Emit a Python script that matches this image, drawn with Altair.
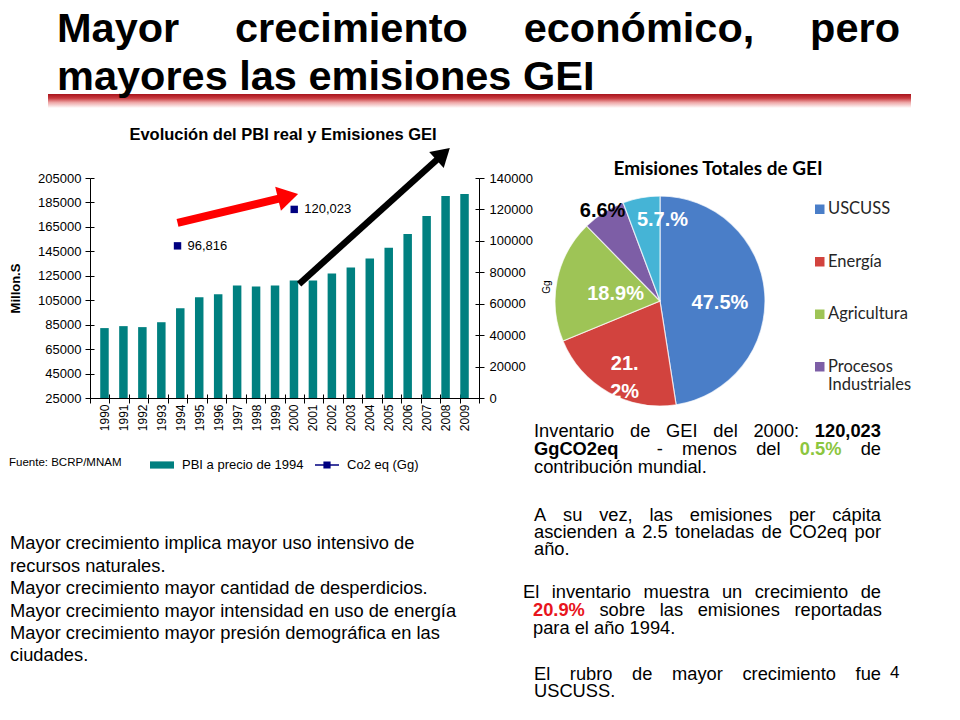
import math
import altair as alt
import pandas as pd

OFF = 8
W, H = 944, 700
SANS = "Liberation Sans"
CAL = "Lato"

# ---------------- data ----------------
years = list(range(1990, 2010))
pbi = [82200, 83800, 83000, 87000, 98400, 107400, 109800, 117100, 116300, 117100,
       121200, 121200, 126900, 131800, 139100, 148000, 159200, 173900, 190300, 191900]
co2_years = [1994, 2000]
co2_vals = [96816, 120023]
serie_labels = ["PBI a precio de 1994", "Co2 eq (Gg)"]

left_ticks = list(range(25000, 205001, 20000))
right_ticks = list(range(0, 140001, 20000))

pie_cats = ["USCUSS", "Energía", "Agricultura", "Procesos Industriales", "Desechos"]
pie_pcts = [47.5, 21.2, 18.9, 6.6, 5.7]
pie_labels = ["47.5%", "21.\n2%", "18.9%", "6.6%", "5.7.%"]

# arrows, in data units (year, right-axis value)
arrow_from_year = [1994.0, 2000.25]
arrow_from_val = [111400, 72500]
arrow_to_year = [2000.2, 2008.0]
arrow_to_val = [129800, 159100]

# ---------------- layout ----------------
X0, X1 = 90 - OFF, 479 - OFF
YT, YB = 178 - OFF, 398 - OFF
XDOM = [1989.5, 2009.5]
CX, CY, R = 660 - OFF, 301 - OFF, 105
BOUNDS = [y - 0.5 for y in years] + [2009.5]


def xs():
    return alt.Scale(domain=XDOM, range=[X0, X1], nice=False, zero=False)


def yls():
    return alt.Scale(domain=[25000, 205000], range=[YB, YT], nice=False, zero=False)


def yrs():
    return alt.Scale(domain=[0, 140000], range=[YB, YT], nice=False, zero=False)


AX = dict(labelFont=SANS, labelColor="black", domainColor="black", tickColor="black",
          grid=False, labelFontSize=13)

RECT_PATH = "M-1,-0.3L1,-0.3L1,0.3L-1,0.3Z"
LINESQ_PATH = "M-1,-0.06L1,-0.06L1,0.06L-1,0.06ZM-0.3,-0.3L0.3,-0.3L0.3,0.3L-0.3,0.3Z"
HEAD_PATH = "M0,0L0.6,1L-0.6,1Z"

color_bar = alt.Scale(domain=serie_labels, range=["#008080", "#000080"])
shape_bar = alt.Scale(domain=serie_labels, range=[RECT_PATH, LINESQ_PATH])
bar_legend = alt.Legend(orient="none", legendX=141, legendY=444, direction="horizontal",
                        title=None, labelFont=SANS, labelFontSize=13, labelColor="black",
                        symbolSize=576, labelOffset=7, columnPadding=10, padding=0)

# ---------------- bar chart ----------------
bar_df = pd.DataFrame({"year": years, "pbi": pbi, "serie": serie_labels[0]})
bars = alt.Chart(bar_df).mark_bar(size=8.5).encode(
    x=alt.X("year:Q", scale=xs(), axis=alt.Axis(
        orient="bottom", values=years, format="d", labelAngle=270, ticks=False, tickSize=0,
        labelPadding=6, title=None, offset=-(H - YB), labelOverlap=False,
        **{**AX, "labelFontSize": 12})),
    y=alt.Y("pbi:Q", scale=yls(), axis=alt.Axis(
        orient="left", values=left_ticks, format="d", tickSize=5, labelPadding=4,
        title="Millon.S", titleFont=SANS, titleFontSize=13, titleFontWeight="bold",
        titleColor="black", titlePadding=15, offset=-X0, **AX)),
    y2=alt.datum(25000),
    color=alt.Color("serie:N", scale=color_bar, legend=bar_legend),
)

co2_df = pd.DataFrame({"year": co2_years, "co2": co2_vals, "serie": serie_labels[1]})
points = alt.Chart(co2_df).mark_square(size=55, opacity=1).encode(
    x=alt.X("year:Q", scale=xs(), axis=alt.Axis(
        orient="bottom", values=BOUNDS, labels=False,
        domain=False, tickSize=5, title=None, offset=-(H - YB), **AX)),
    y=alt.Y("co2:Q", scale=yrs(), axis=alt.Axis(
        orient="right", values=right_ticks, format="d", tickSize=5, labelPadding=5,
        title=None, offset=-(W - X1), **AX)),
    color=alt.Color("serie:N", scale=color_bar, legend=bar_legend),
)

# inner halves of the crossing tick marks (axes placed on the opposite side of each line)
inner_a = alt.Chart(bar_df).mark_point(opacity=0).encode(
    x=alt.X("year:Q", scale=xs(), axis=alt.Axis(
        orient="top", values=BOUNDS, labels=False, domain=False, tickSize=4, title=None,
        offset=-YB, **AX)),
    y=alt.Y("pbi:Q", scale=yls(), axis=alt.Axis(
        orient="right", values=left_ticks, labels=False, domain=False, tickSize=4,
        title=None, offset=-(W - X0), **AX)),
)
inner_b = alt.Chart(co2_df).mark_point(opacity=0).encode(
    x=alt.X("year:Q", scale=xs(), axis=None),
    y=alt.Y("co2:Q", scale=yrs(), axis=alt.Axis(
        orient="left", values=right_ticks, labels=False, domain=False, tickSize=4,
        title=None, offset=-X1, **AX)),
)

co2_text = alt.Chart(co2_df).mark_text(
    align="left", baseline="middle", dx=10, font=SANS, fontSize=13, color="black"
).encode(
    x=alt.X("year:Q", scale=xs(), axis=None),
    y=alt.Y("co2:Q", scale=yrs(), axis=None),
    text=alt.Text("co2:Q", format=","),
)

leg_df = pd.DataFrame({"serie": serie_labels})
leg_layer = alt.Chart(leg_df).mark_point(filled=True, opacity=1).encode(
    x=alt.value(-300), y=alt.value(-300),
    color=alt.Color("serie:N", scale=color_bar, legend=bar_legend),
    shape=alt.Shape("serie:N", scale=shape_bar, legend=bar_legend),
)

PXY = (X1 - X0) / (XDOM[1] - XDOM[0])
PYV = (YB - YT) / 140000.0
arrow_layers = []
for i, (col, sw, hs) in enumerate([("#FF0000", 8, 1700), ("#000000", 6.5, 1300)]):
    dxp = (arrow_to_year[i] - arrow_from_year[i]) * PXY
    dyp = -(arrow_to_val[i] - arrow_from_val[i]) * PYV
    length = math.hypot(dxp, dyp)
    ang = math.degrees(math.atan2(dxp, -dyp)) % 360
    head_len = math.sqrt(hs) / 2
    t = 1 - 0.75 * head_len / length
    a_df = pd.DataFrame({
        "x1": [arrow_from_year[i]], "y1": [arrow_from_val[i]],
        "xe": [arrow_from_year[i] + t * (arrow_to_year[i] - arrow_from_year[i])],
        "ye": [arrow_from_val[i] + t * (arrow_to_val[i] - arrow_from_val[i])],
        "xt": [arrow_to_year[i]], "yt": [arrow_to_val[i]],
    })
    shaft = alt.Chart(a_df).mark_rule(color=col, strokeWidth=sw).encode(
        x=alt.X("x1:Q", scale=xs(), axis=None), x2="xe:Q",
        y=alt.Y("y1:Q", scale=yrs(), axis=None), y2="ye:Q")
    head = alt.Chart(a_df).mark_point(shape=HEAD_PATH, filled=True, size=hs, angle=ang,
                                      color=col, opacity=1).encode(
        x=alt.X("xt:Q", scale=xs(), axis=None),
        y=alt.Y("yt:Q", scale=yrs(), axis=None))
    arrow_layers += [shaft, head]

bar_group = alt.layer(bars, points, inner_a, inner_b, co2_text, *arrow_layers,
                      leg_layer).resolve_scale(x="independent", y="independent")

# ---------------- pie chart ----------------
pie_df = pd.DataFrame({"cat": pie_cats, "pct": pie_pcts, "label": pie_labels,
                       "idx": list(range(len(pie_cats)))})
pie_colors = ["#4A7EC8", "#D2433E", "#9EC456", "#7D5EA6", "#45B4D6"]
pie_legend = alt.Legend(orient="none", legendX=803.5, legendY=193, title=None,
                        values=pie_cats[:4], symbolType="square", symbolSize=121,
                        labelFont=CAL, labelFontSize=16.5, labelColor="#262626",
                        rowPadding=34.5, labelOffset=0, padding=0,
                        labelExpr="split(datum.label, ' ')")
pie = alt.Chart(pie_df).mark_arc(outerRadius=R, stroke="#ffffff", strokeWidth=1.2,
                                 strokeOpacity=0.7).encode(
    theta=alt.Theta("pct:Q", stack=True),
    order=alt.Order("idx:Q", sort="ascending"),
    color=alt.Color("cat:N", scale=alt.Scale(domain=pie_cats, range=pie_colors),
                    legend=pie_legend),
    x=alt.value(CX), y=alt.value(CY),
)

r_expr = ("datum.cat == 'USCUSS' ? 60 : datum.cat == 'Energía' ? 72 : "
          "datum.cat == 'Agricultura' ? 45 : datum.cat == 'Procesos Industriales' ? 107 : 81")
o_expr = ("datum.cat == 'USCUSS' ? 0.11 : datum.cat == 'Energía' ? 0.0 : "
          "datum.cat == 'Agricultura' ? -0.04 : datum.cat == 'Procesos Industriales' ? 0 : 0.21")
pie_text = alt.Chart(pie_df).transform_window(
    cum="sum(pct)", sort=[alt.SortField("idx", order="ascending")]
).transform_joinaggregate(total="sum(pct)").transform_calculate(
    mid="(datum.cum - datum.pct / 2) / datum.total * 2 * PI",
    r=r_expr, off=o_expr,
).transform_calculate(
    px=f"{CX} + datum.r * sin(datum.mid + datum.off)",
    py=f"{CY} - datum.r * cos(datum.mid + datum.off)",
).mark_text(font=SANS, fontSize=20, fontWeight="bold", align="center", baseline="middle",
            lineBreak="\n", lineHeight=28).encode(
    x=alt.X("px:Q", scale=None, axis=None),
    y=alt.Y("py:Q", scale=None, axis=None),
    text="label:N",
    color=alt.condition("datum.cat == 'Procesos Industriales'", alt.value("black"),
                        alt.value("white")),
)

pie_group = alt.layer(pie, pie_text)

# ---------------- texts ----------------
# Arial / Liberation Sans advance widths (per 1000 em)
_REG = {" ": 278, "%": 889, ",": 278, "-": 333, ".": 278, ":": 278, "/": 278,
        "A": 667, "B": 667, "C": 722, "E": 667, "G": 778, "I": 278, "M": 833, "O": 778,
        "P": 667, "S": 667, "U": 722,
        "a": 556, "b": 556, "c": 500, "d": 556, "e": 556, "f": 278, "g": 556, "h": 556,
        "i": 222, "l": 222, "m": 833, "n": 556, "o": 556, "p": 556, "q": 556, "r": 333,
        "s": 500, "t": 278, "u": 556, "v": 500, "y": 500, "z": 500,
        "á": 556, "é": 556, "í": 278, "ó": 556, "ú": 556, "ñ": 556}
_BOLD = {" ": 278, "%": 889, ",": 278, "-": 333, ".": 278, ":": 333,
         "C": 722, "E": 667, "G": 778, "I": 278, "M": 833, "O": 778,
         "a": 556, "b": 611, "c": 556, "d": 611, "e": 556, "g": 611, "i": 278, "l": 278,
         "m": 889, "n": 611, "o": 611, "p": 611, "q": 611, "r": 389, "s": 556, "t": 333,
         "u": 611, "y": 556, "ó": 611}


def text_w(s, bold, size):
    tab = _BOLD if bold else _REG
    return sum(tab.get(c, 556) for c in s) / 1000.0 * size


def justify(items, x0, x1, y, size):
    """items: list of (word, style); returns rows (word, x, y, style) spread over x0..x1."""
    widths = [text_w(t, st != "n", size) for t, st in items]
    gap = (x1 - x0 - sum(widths)) / (len(items) - 1)
    out, x = [], x0
    for (t, st), w in zip(items, widths):
        if t:
            out.append((t, x, y, st))
        x += w + gap
    return out


def plain(text, x0, y):
    return [(text, x0, y, "n")]


def words_n(text):
    return [(w, "n") for w in text.split(" ")]


def words(rows_, font=SANS, size=18.3, weight="normal", align="left", color="black",
          baseline="alphabetic", angle=None):
    df = pd.DataFrame(rows_, columns=["t", "x", "y"])
    df["x"] = df["x"] - OFF
    df["y"] = df["y"] - OFF
    mk = dict(font=font, fontSize=size, fontWeight=weight, align=align, baseline=baseline,
              color=color)
    if angle is not None:
        mk["angle"] = angle
    return alt.Chart(df).mark_text(**mk).encode(
        x=alt.X("x:Q", scale=None, axis=None),
        y=alt.Y("y:Q", scale=None, axis=None),
        text="t:N",
    )


BODY = 18.3
rows = []
rows += justify(words_n("Inventario de GEI del 2000:") + [("120,023", "b")], 534, 881, 437, BODY)
rows += justify([("GgCO2eq", "b"), ("", "n"), ("-", "n"), ("menos", "n"), ("del", "n"),
                 ("0.5%", "g"), ("de", "n")], 534, 881, 455, BODY)
rows += plain("contribución mundial.", 534, 473)
rows += justify(words_n("A su vez, las emisiones per cápita"), 534, 881, 521, BODY)
rows += justify(words_n("ascienden a 2.5 toneladas de CO2eq por"), 534, 881, 538, BODY)
rows += plain("año.", 534, 555)
rows += justify(words_n("El inventario muestra un crecimiento de"), 523, 881, 598, BODY)
rows += justify([("20.9%", "r")] + words_n("sobre las emisiones reportadas"), 533, 882, 616, BODY)
rows += plain("para el año 1994.", 533, 634)
rows += justify(words_n("El rubro de mayor crecimiento fue"), 534, 881, 680, BODY)
rows += plain("USCUSS.", 534, 697)

style_def = {"n": ("normal", "black"), "b": ("bold", "black"),
             "g": ("bold", "#8CC63E"), "r": ("bold", "#E8141C")}
right_layers = []
for st, (wt, colr) in style_def.items():
    sel = [(t, x, y) for t, x, y, s in rows if s == st]
    if sel:
        right_layers.append(words(sel, size=BODY, weight=wt, color=colr))

underline = alt.Chart(pd.DataFrame({"a": [0]})).mark_rect(
    fill=alt.Gradient(gradient="linear", x1=0, x2=0, y1=0, y2=1, stops=[
        alt.GradientStop(color="#A8141C", offset=0),
        alt.GradientStop(color="#C83A3F", offset=0.3),
        alt.GradientStop(color="#EDA5A5", offset=0.6),
        alt.GradientStop(color="#FFFFFF", offset=1)])
).encode(x=alt.value(48 - OFF), x2=alt.value(911 - OFF), y=alt.value(94 - OFF),
         y2=alt.value(108 - OFF))

TSIZE = 41.5
t_rows = justify([(w, "b") for w in "Mayor crecimiento económico, pero".split(" ")],
                 57, 900, 42, TSIZE)
t_rows += [("mayores las emisiones GEI", 57, 90, "b")]
title = words([(t, x, y) for t, x, y, s in t_rows], size=TSIZE, weight="bold")

body_left = words([
    ("Mayor crecimiento implica mayor uso intensivo de", 10, 549),
    ("recursos naturales.", 10, 572),
    ("Mayor crecimiento mayor cantidad de desperdicios.", 10, 594),
    ("Mayor crecimiento mayor intensidad en uso de energía", 10, 617),
    ("Mayor crecimiento mayor presión demográfica en las", 10, 639),
    ("ciudades.", 10, 661),
], size=BODY)

slide_no = words([("4", 890, 678)], size=17)
bar_title = words([("Evolución del PBI real y Emisiones GEI", 283, 140)], size=16.5,
                  weight="bold", align="center")
fuente = words([("Fuente: BCRP/MNAM", 9, 466)], size=11.5)
gg = words([("Gg", 547, 287)], size=10, align="center", baseline="middle", angle=270)
pie_title = words([("Emisiones Totales de GEI", 718, 175)], font=CAL, size=19,
                  weight="bold", align="center")

chart = alt.layer(
    underline, title,
    bar_group, pie_group,
    bar_title, fuente, gg, pie_title,
    body_left, *right_layers, slide_no,
).resolve_scale(
    x="independent", y="independent", color="independent", shape="independent"
).properties(
    width=W, height=H, padding=0, autosize=alt.AutoSizeParams(type="none"),
    background="white",
).configure_view(stroke=None).configure_axis(grid=False)

chart.save("out.html", embed_options={"renderer": "svg", "actions": False})
